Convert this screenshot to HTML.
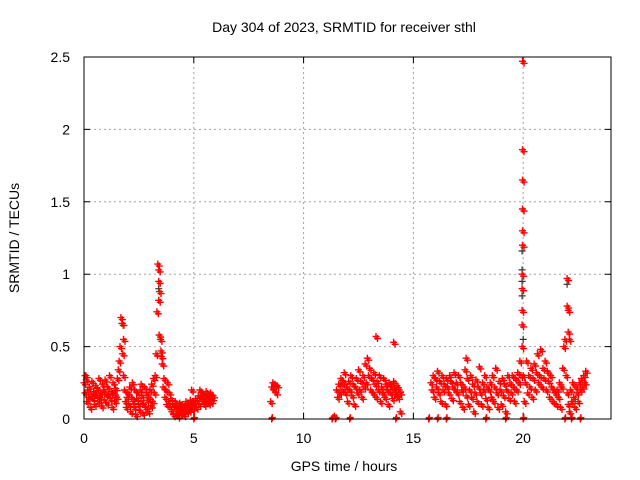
<!DOCTYPE html>
<html><head><meta charset="utf-8"><style>
body{margin:0;background:#fff}
svg{display:block;font-family:"Liberation Sans",sans-serif}
</style></head><body>
<svg id="chart" width="640" height="480">
<text x="344" y="32" font-size="14" text-anchor="middle">Day 304 of 2023, SRMTID for receiver sthl</text>
<text x="344" y="471" font-size="14" text-anchor="middle">GPS time / hours</text>
<text x="19" y="238" font-size="14" text-anchor="middle" transform="rotate(-90 19 238)">SRMTID / TECUs</text>
<g id="grid"></g>
<g id="axes"></g>
<path id="black" fill="none" stroke="#333" stroke-width="1.2"/>
<path id="red" fill="none" stroke="#ff0000" stroke-width="1.4"/>
<path id="red2" fill="none" stroke="#ff0000" stroke-width="1.4" transform="translate(1.5,2)"/>
<rect x="84" y="57" width="527" height="362" fill="none" stroke="#000" stroke-width="1"/>
</svg>
<script>
const xTicks=[0,5,10,15,20];
const yTicks=[0,0.5,1,1.5,2,2.5];
const yTickLabels=["0","0.5","1","1.5","2","2.5"];
const segStarts=[0,8.5,11.5,15.8];
const segSteps=[0.04,0.05,0.05,0.05];
const segA=[0.25,0.18,0.3,0.12,0.2,0.15,0.22,0.08,0.17,0.26,0.14,0.19,0.1,0.23,0.16,0.21,0.12,0.28,0.15,0.18,0.09,0.24,0.2,0.13,0.27,0.17,0.11,0.22,0.16,0.3,0.14,0.19,0.08,0.25,0.18,0.12,0.21,0.15,
0.28,0.34,0.4,0.5,0.7,0.66,0.45,0.3,0.2,0.12,0.08,0.15,
0.18,0.1,0.22,0.05,0.15,0.25,0.12,0.08,0.2,0.03,0.14,0.18,0.1,0.06,0.2,0.12,0.16,0.04,0.1,0.22,0.08,0.18,0.13,0.05,0.15,0.2,0.09,0.24,0.12,0.28,0.18,
0.3,0.45,0.74,1.07,1.03,0.88,0.55,0.43,0.38,0.22,
0.28,0.15,0.2,0.1,0.25,0.12,0.18,0.08,0.14,0.05,
0.1,0.03,0.08,0.12,0.05,0.09,0.02,0.07,0.11,0.04,0.08,0.1,0.06,0.03,0.09,0.12,0.05,0.08,0.1,0.06,0.13,0.09,0.11,0.07,0.12,
0.1,0.14,0.08,0.12,0.16,0.1,0.2,0.15,0.18,0.12,0.17,0.1,0.14,0.19,0.13,0.16,0.11,0.15,0.18,0.12,0.14,0.16];
const segB=[0.12,0.22,0.25,0.2,0.24,0.18,0.23];
const segC=[0.2,0.15,0.24,0.18,0.28,0.2,0.25,0.32,0.18,0.22,0.12,0.26,0.2,0.3,0.16,0.24,0.1,0.22,0.28,0.18,0.34,0.2,0.26,0.15,0.3,0.22,0.38,0.25,0.42,0.3,0.35,0.2,0.28,0.18,0.32,0.24,0.15,0.26,0.2,0.3,0.12,0.22,0.18,0.28,0.15,0.24,0.2,0.1,0.25,0.18,0.22,0.14,0.26,0.2,0.17,0.23,0.15,0.2,0.18];
const segD=[0.25,0.2,0.3,0.15,0.28,0.22,0.33,0.18,0.26,0.12,0.3,0.2,0.24,0.1,0.28,0.22,0.18,0.3,0.26,0.14,0.22,0.32,0.2,0.25,
0.18,0.3,0.12,0.25,0.2,0.08,0.22,0.34,0.16,0.28,0.1,0.2,0.3,0.15,0.24,0.05,0.18,0.27,0.12,0.22,0.36,0.18,0.1,0.25,0.2,0.3,0.14,0.22,0.08,0.2,
0.25,0.15,0.3,0.12,0.22,0.35,0.18,0.08,0.26,0.2,0.1,0.28,0.16,0.24,0.05,0.2,0.3,0.14,0.25,0.18,0.3,0.22,0.12,0.28,0.2,0.32,0.25,0.4,0.3,0.5,
0.3,0.12,0.25,0.4,0.18,0.3,0.22,0.35,0.15,0.28,0.38,0.2,0.32,0.45,0.25,0.3,0.48,0.22,0.35,0.28,0.4,0.2,0.33,0.26,0.15,0.3,0.22,0.12,0.2,0.18,
0.1,0.2,0.15,0.25,0.08,0.22,0.35,0.5,0.55,0.3,0.18,0.1,0.05,0.2,0.12,0.25,0.15,0.08,0.22,0.18,0.12,0.25,0.2,0.28,0.22,0.3,0.25,0.33];
const extraHours=[3.4,3.4,3.42,3.5,1.75,1.8,13.3,14.1,11.4,14.4,19.97,19.97,19.97,19.97,19.97,19.97,19.95,19.95,19.95,19.95,22.0,22.0,22.05,22.05,22.1,0.05,0.1,2.6,4.9,17.4];
const extraValues=[0.95,0.82,0.58,0.47,0.66,0.55,0.57,0.53,0.02,0.05,2.47,1.86,1.65,1.45,1.3,1.2,1.0,0.9,0.75,0.65,0.97,0.78,0.75,0.6,0.55,0.3,0.27,0.24,0.2,0.42];
const zeroHours=[5.0,8.55,11.3,11.45,12.1,14.2,15.7,16.1,16.5,18.3,19.2,20.0,21.9,22.2,22.6];
const blackHours=[19.95,19.95,19.95,19.95,22.0,3.4,20.0];
const blackValues=[1.16,1.03,0.95,0.85,0.93,0.9,0.55];

const X=t=>84+t*527/24, Y=v=>419-v*362/2.5;
const plus=(t,v)=>{const x=X(t),y=Y(v);return `M${(x-3.5).toFixed(1)} ${y.toFixed(1)}h7M${x.toFixed(1)} ${(y-3.5).toFixed(1)}v7`;};
let d="";
const segs=[segA,segB,segC,segD];
segs.forEach((s,i)=>s.forEach((v,j)=>{d+=plus(segStarts[i]+j*segSteps[i],v);}));
extraHours.forEach((t,i)=>{d+=plus(t,extraValues[i]);});
let dz="";
zeroHours.forEach(t=>{dz+=plus(t,0)+plus(t+0.03,0.01);});
document.getElementById('red').setAttribute('d',d+dz);
document.getElementById('red2').setAttribute('d',d);
let db="";
blackHours.forEach((t,i)=>{db+=plus(t,blackValues[i]);});
document.getElementById('black').setAttribute('d',db);

const NS="http://www.w3.org/2000/svg";
const grid=document.getElementById('grid'),axes=document.getElementById('axes');
xTicks.forEach(t=>{
  const x=X(t);
  if(t>0){const l=document.createElementNS(NS,'line');
  
  
  l.setAttribute('x1',x);l.setAttribute('x2',x);l.setAttribute('y1',57);l.setAttribute('y2',419);
  l.setAttribute('stroke','#a0a0a0');l.setAttribute('stroke-dasharray','2,3');grid.appendChild(l);}
  const tk=document.createElementNS(NS,'path');
  
  
  tk.setAttribute('d',`M${x} 419v-6M${x} 57v6`);tk.setAttribute('stroke','#000');axes.appendChild(tk);
  const tx=document.createElementNS(NS,'text');
  
  
  tx.setAttribute('x',x);tx.setAttribute('y',443);tx.setAttribute('font-size','14');tx.setAttribute('text-anchor','middle');
  tx.textContent=String(t);axes.appendChild(tx);
});
yTicks.forEach((v,i)=>{
  const y=Y(v);
  if(v>0&&v<2.5){const l=document.createElementNS(NS,'line');
  
  
  l.setAttribute('x1',84);l.setAttribute('x2',611);l.setAttribute('y1',y);l.setAttribute('y2',y);
  l.setAttribute('stroke','#a0a0a0');l.setAttribute('stroke-dasharray','2,3');grid.appendChild(l);}
  const tk=document.createElementNS(NS,'path');
  
  
  tk.setAttribute('d',`M84 ${y}h6M611 ${y}h-6`);tk.setAttribute('stroke','#000');axes.appendChild(tk);
  const tx=document.createElementNS(NS,'text');
  
  
  tx.setAttribute('x',70);tx.setAttribute('y',y+5);tx.setAttribute('font-size','14');tx.setAttribute('text-anchor','end');
  tx.textContent=yTickLabels[i];axes.appendChild(tx);
});
</script>
</body></html>
